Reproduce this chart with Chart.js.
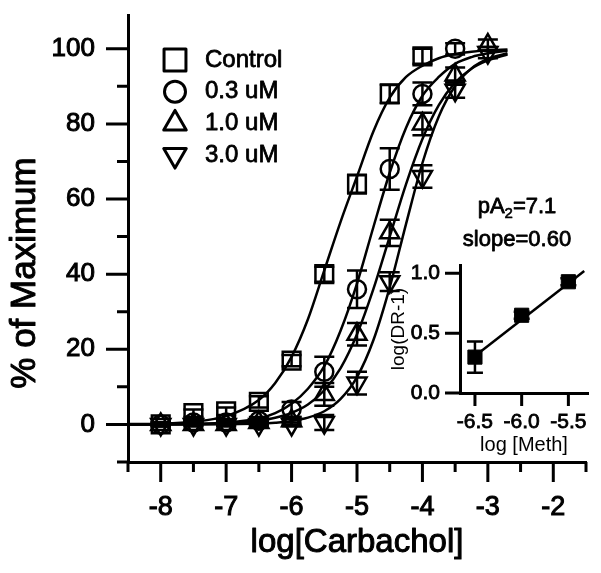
<!DOCTYPE html>
<html>
<head>
<meta charset="utf-8">
<script src="https://cdn.jsdelivr.net/npm/chart.js@4.4.1/dist/chart.umd.min.js"></script>
<style>
  body { margin: 0; background: #fff; }
  #wrap { position: relative; width: 601px; height: 573px; }
  #main { position: absolute; left: 0; top: 0; }
  #inset { position: absolute; left: 380px; top: 250px; }
</style>
</head>
<body>
<div id="wrap">
  <canvas id="main" width="601" height="573"></canvas>
  <canvas id="inset" width="221" height="215"></canvas>
</div>
<script>
const FONT = '"Liberation Sans", Arial, sans-serif';

// main plot - log[Carbachol] vs % of maximum
const doseX = [-8, -7.5, -7, -6.5, -6, -5.5, -5, -4.5, -4, -3.5, -3];
const controlY = [0, 3, 3.5, 6, 17, 40, 64, 88, 98];
const controlErr = [0.5, 1, 1, 1.5, 1.5, 2, 2.5, 2.5, 2];
const meth03Y = [0, 0.5, 0.5, 1, 4, 14, 36, 68, 88, 100];
const meth03Err = [0.5, 0.5, 0.5, 1, 2, 4, 5, 5.5, 3, 1.5];
const meth10Y = [0, 0, 0, 0.5, 1, 8, 24, 51, 80, 93, 101];
const meth10Err = [0.5, 0.5, 0.5, 0.5, 1, 3, 3, 3.5, 3, 2, 1.5];
const meth30Y = [0, 0, 0, 0, 0, 0.5, 11, 38, 66, 89, 99];
const meth30Err = [0.5, 0.5, 0.5, 0.5, 0.5, 2, 3, 2.5, 3, 2, 1.5];

// fitted curves
const fitX = [-8.5, -8, -7.5, -7, -6.5, -6.25, -6, -5.75, -5.5, -5.25, -5, -4.75, -4.5, -4.25, -4, -3.75, -3.5, -3.25, -3, -2.7];
const controlFit = [0.1, 0.2, 0.7, 2.2, 6.5, 11, 18, 28, 41, 54, 66, 78, 87, 92.5, 95.5, 97.5, 98.6, 99.2, 99.6, 99.8];
const meth03Fit = [0, 0.05, 0.15, 0.5, 1.6, 3, 5.5, 9.5, 15.5, 25, 37.5, 52.5, 67, 79, 87.5, 92.5, 96, 97.8, 98.8, 99.5];
const meth10Fit = [0, 0.03, 0.1, 0.3, 1, 1.8, 3.1, 5.3, 9.1, 15, 24, 36, 50, 64, 76, 85, 91, 94.7, 96.9, 98.5];
const meth30Fit = [0, 0, 0, 0.06, 0.23, 0.46, 0.9, 1.8, 3.5, 6.8, 12.6, 22.4, 36.5, 53.4, 69.6, 82, 90.1, 94.8, 97.3, 98.8];

const xTicks = [-8.5, -8, -7.5, -7, -6.5, -6, -5.5, -5, -4.5, -4, -3.5, -3, -2.5, -2, -1.5];
const xLabelled = [-8, -7, -6, -5, -4, -3, -2];
const yTicks = [-10, 0, 10, 20, 30, 40, 50, 60, 70, 80, 90, 100];
const yLabelled = [0, 20, 40, 60, 80, 100];

const legendLabels = ['Control', '0.3 uM', '1.0 uM', '3.0 uM'];

// inset - Schild plot
const methX = [-6.5, -6.0, -5.5];
const drY = [0.30, 0.65, 0.93];
const drErr = [0.13, 0.03, 0.03];
const regX = [-6.5, -5.33];
const regY = [0.31, 1.02];
const inXTicks = [-6.5, -6.0, -5.5];
const inYTicks = [0, 0.5, 1.0];

const pts = (xs, ys) => ys.map((y, i) => ({ x: xs[i], y: y }));

const markers = [
    { pointStyle: 'rect', radius: 12.5, rotation: 0 },
    { pointStyle: 'circle', radius: 9, rotation: 0 },
    { pointStyle: 'triangle', radius: 11, rotation: 0 },
    { pointStyle: 'triangle', radius: 11, rotation: 180 }
];
const legendRadius = [15.5, 10.5, 13, 13];

function markerSet(label, ys, errs, m) {
    return {
        label: label,
        data: pts(doseX, ys),
        errors: errs,
        showLine: false,
        pointStyle: m.pointStyle,
        pointRotation: m.rotation,
        pointRadius: m.radius,
        pointBorderWidth: 2.5,
        pointBorderColor: '#000',
        pointBackgroundColor: 'rgba(0,0,0,0)',
        clip: false
    };
}

function fitSet(ys) {
    return {
        data: pts(fitX, ys),
        borderColor: '#000',
        borderWidth: 2.5,
        pointRadius: 0,
        cubicInterpolationMode: 'monotone',
        fill: false,
        clip: false
    };
}

// error bars with caps
const errorBars = {
    id: 'errorBars',
    afterDatasetsDraw(chart) {
        const { ctx, scales: { y } } = chart;
        ctx.save();
        ctx.strokeStyle = '#000';
        ctx.lineWidth = 2.5;
        chart.data.datasets.forEach((ds, i) => {
            if (!ds.errors) return;
            const meta = chart.getDatasetMeta(i);
            const cap = ds.capWidth || 10;
            meta.data.forEach((el, j) => {
                const e = ds.errors[j];
                if (!e) return;
                const v = ds.data[j].y;
                const top = y.getPixelForValue(v + e);
                const bot = y.getPixelForValue(v - e);
                ctx.beginPath();
                ctx.moveTo(el.x, top); ctx.lineTo(el.x, bot);
                ctx.moveTo(el.x - cap, top); ctx.lineTo(el.x + cap, top);
                ctx.moveTo(el.x - cap, bot); ctx.lineTo(el.x + cap, bot);
                ctx.stroke();
            });
        });
        ctx.restore();
    }
};

// outward tick marks, long for labelled ticks and short for the others
function tickMarks(xt, xMajor, yt, yMajor, xLen, yLen) {
    return {
        id: 'tickMarks',
        afterDraw(chart) {
            const { ctx, chartArea, scales: { x, y } } = chart;
            ctx.save();
            ctx.strokeStyle = '#000';
            ctx.lineWidth = 3;
            ctx.beginPath();
            xt.forEach(v => {
                const px = x.getPixelForValue(v);
                const len = xMajor.includes(v) ? xLen[0] : xLen[1];
                ctx.moveTo(px, chartArea.bottom);
                ctx.lineTo(px, chartArea.bottom + len);
            });
            yt.forEach(v => {
                const py = y.getPixelForValue(v);
                const len = yMajor.includes(v) ? yLen[0] : yLen[1];
                ctx.moveTo(chartArea.left, py);
                ctx.lineTo(chartArea.left - len, py);
            });
            ctx.stroke();
            ctx.restore();
        }
    };
}

// heavy text, like the scanned original
function heavyText(ctx, t, x, y, w) {
    ctx.lineWidth = w;
    ctx.strokeText(t, x, y);
    ctx.fillText(t, x, y);
}

const mainExtras = {
    id: 'mainExtras',
    afterDraw(chart) {
        const { ctx, chartArea } = chart;
        ctx.save();
        ctx.fillStyle = '#000';
        ctx.strokeStyle = '#000';
        ctx.lineJoin = 'round';

        // axis titles
        ctx.save();
        ctx.translate(25, 273);
        ctx.rotate(-Math.PI / 2);
        ctx.font = '35px ' + FONT;
        ctx.textAlign = 'center';
        ctx.textBaseline = 'middle';
        heavyText(ctx, '% of Maximum', 0, 0, 1);
        ctx.restore();

        ctx.font = '33px ' + FONT;
        ctx.textAlign = 'center';
        ctx.textBaseline = 'middle';
        heavyText(ctx, 'log[Carbachol]', (chartArea.left + chartArea.right) / 2, 543, 1);

        // legend
        ctx.font = '24px ' + FONT;
        ctx.textAlign = 'left';
        legendLabels.forEach((t, i) => {
            const yy = 60 + i * 31.7;
            ctx.fillStyle = 'rgba(0,0,0,0)';
            ctx.lineWidth = 3;
            Chart.helpers.drawPoint(ctx, {
                pointStyle: markers[i].pointStyle,
                rotation: markers[i].rotation,
                radius: legendRadius[i],
                borderWidth: 3
            }, 175, yy);
            ctx.fillStyle = '#000';
            heavyText(ctx, t, 205, yy, 0.8);
        });

        // Schild result
        ctx.font = '22px ' + FONT;
        const a = 'pA', b = '2', c = '=7.1';
        const wa = ctx.measureText(a).width, wc = ctx.measureText(c).width;
        ctx.font = '15px ' + FONT;
        const wb = ctx.measureText(b).width;
        const sx = 517 - (wa + wb + wc) / 2;
        ctx.font = '22px ' + FONT;
        heavyText(ctx, a, sx, 207, 0.8);
        ctx.font = '15px ' + FONT;
        heavyText(ctx, b, sx + wa, 214, 0.6);
        ctx.font = '22px ' + FONT;
        heavyText(ctx, c, sx + wa + wb, 207, 0.8);
        ctx.textAlign = 'center';
        heavyText(ctx, 'slope=0.60', 517, 240, 0.8);
        ctx.restore();
    }
};

new Chart(document.getElementById('main'), {
    type: 'line',
    data: {
        datasets: [
            fitSet(controlFit), fitSet(meth03Fit), fitSet(meth10Fit), fitSet(meth30Fit),
            markerSet('Control', controlY, controlErr, markers[0]),
            markerSet('0.3 uM', meth03Y, meth03Err, markers[1]),
            markerSet('1.0 uM', meth10Y, meth10Err, markers[2]),
            markerSet('3.0 uM', meth30Y, meth30Err, markers[3])
        ]
    },
    options: {
        responsive: false,
        animation: false,
        layout: { padding: { left: 0, top: 12, right: 13, bottom: 0 } },
        plugins: { legend: { display: false }, tooltip: { enabled: false } },
        scales: {
            x: {
                type: 'linear',
                min: -8.5,
                max: -1.5,
                afterBuildTicks: s => { s.ticks = xTicks.map(v => ({ value: v })); },
                afterFit: s => { s.height = 111; s.paddingLeft = 0; s.paddingRight = 0; },
                grid: { display: false, drawTicks: false },
                border: { display: true, color: '#000', width: 3 },
                ticks: {
                    autoSkip: false, maxRotation: 0, padding: 29, color: '#000',
                    textStrokeColor: '#000', textStrokeWidth: 1,
                    font: { family: FONT, size: 27 },
                    callback: v => xLabelled.includes(v) ? String(v) : ''
                }
            },
            y: {
                type: 'linear',
                min: -10,
                max: 109,
                afterBuildTicks: s => { s.ticks = yTicks.map(v => ({ value: v })); },
                afterFit: s => { s.width = 128; s.paddingTop = 0; s.paddingBottom = 0; },
                grid: { display: false, drawTicks: false },
                border: { display: true, color: '#000', width: 3 },
                ticks: {
                    autoSkip: false, padding: 33, color: '#000',
                    textStrokeColor: '#000', textStrokeWidth: 1,
                    font: { family: FONT, size: 26 },
                    callback: v => yLabelled.includes(v) ? String(v) : ''
                }
            }
        }
    },
    plugins: [errorBars, tickMarks(xTicks, xLabelled, yTicks, yLabelled, [20, 10], [22, 11]), mainExtras]
});

new Chart(document.getElementById('inset'), {
    type: 'line',
    data: {
        datasets: [
            {
                data: pts(regX, regY),
                borderColor: '#000',
                borderWidth: 2.5,
                pointRadius: 0,
                clip: false
            },
            {
                data: pts(methX, drY),
                errors: drErr,
                capWidth: 8,
                showLine: false,
                pointStyle: 'rect',
                pointRadius: 10,
                pointBorderWidth: 1,
                pointBorderColor: '#000',
                pointBackgroundColor: '#000',
                clip: false
            }
        ]
    },
    options: {
        responsive: false,
        animation: false,
        layout: { padding: { left: 0, top: 15, right: 13, bottom: 0 } },
        plugins: { legend: { display: false }, tooltip: { enabled: false } },
        scales: {
            x: {
                type: 'linear',
                min: -6.66,
                max: -5.29,
                afterBuildTicks: s => { s.ticks = inXTicks.map(v => ({ value: v })); },
                afterFit: s => { s.height = 72; s.paddingLeft = 0; s.paddingRight = 0; },
                grid: { display: false, drawTicks: false },
                border: { display: true, color: '#000', width: 3 },
                ticks: {
                    autoSkip: false, maxRotation: 0, padding: 17, color: '#000',
                    textStrokeColor: '#000', textStrokeWidth: 0.8,
                    font: { family: FONT, size: 21 },
                    callback: v => v.toFixed(1)
                },
                title: {
                    display: true, text: 'log [Meth]', color: '#000',
                    font: { family: FONT, size: 20 },
                    padding: { top: 0, bottom: 8 }
                }
            },
            y: {
                type: 'linear',
                min: 0,
                max: 1.07,
                afterBuildTicks: s => { s.ticks = inYTicks.map(v => ({ value: v })); },
                afterFit: s => { s.width = 80; s.paddingTop = 0; s.paddingBottom = 0; },
                grid: { display: false, drawTicks: false },
                border: { display: true, color: '#000', width: 3 },
                ticks: {
                    autoSkip: false, padding: 20, color: '#000',
                    textStrokeColor: '#000', textStrokeWidth: 0.8,
                    font: { family: FONT, size: 21 },
                    callback: v => v.toFixed(1)
                },
                title: {
                    display: true, text: 'log(DR-1)', color: '#000',
                    font: { family: FONT, size: 19 },
                    padding: { top: 7, bottom: 0 }
                }
            }
        }
    },
    plugins: [errorBars, tickMarks(inXTicks, inXTicks, inYTicks, inYTicks, [13, 13], [15, 15])]
});
</script>
</body>
</html>
